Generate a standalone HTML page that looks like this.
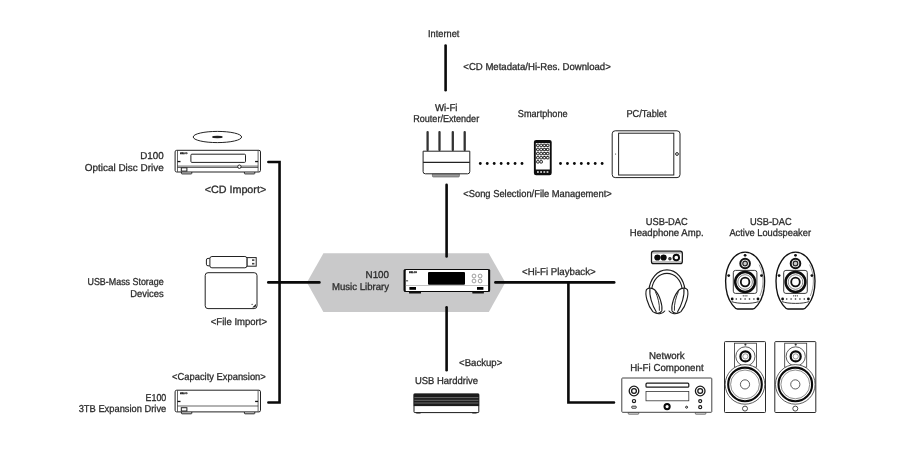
<!DOCTYPE html>
<html lang="en">
<head>
<meta charset="utf-8">
<title>N100 Music Library – connection diagram</title>
<style>
html,body{margin:0;padding:0;background:#fff;}
body{width:900px;height:450px;overflow:hidden;}
svg{display:block;will-change:transform;}
text{font-family:"Liberation Sans",sans-serif;text-rendering:geometricPrecision;stroke:#2b2b2b;stroke-width:.3;}
.ln{fill:none;stroke:#0a0a0a;stroke-width:2.6;stroke-linecap:round;stroke-linejoin:miter;}
.o{fill:#fff;stroke:#222;stroke-width:1;}
.t{fill:none;stroke:#222;stroke-width:.7;}
.k{fill:#111;stroke:none;}
</style>
</head>
<body>
<svg width="900" height="450" viewBox="0 0 900 450">


<polygon points="306.9,282.5 323.4,253.3 488.8,253.3 505.3,282.5 488.8,311.9 323.4,311.9" fill="#c9c9ca"/>
<g class="ln">
<path d="M268.4,162H279.55V402.45H268.4"/>
<path d="M268.3,282.4H319.4"/>
<path d="M445.6,45.5V90.3"/>
<path d="M446.6,184.8V256.4"/>
<path d="M446.6,307.2V370.2"/>
<path d="M495.4,282.4H614.2"/>
<path d="M568.4,282.4V402.5H614"/>
</g>
<g fill="#0a0a0a">
<circle cx="480.30" cy="163.5" r="1.4"/>
<circle cx="487.25" cy="163.5" r="1.4"/>
<circle cx="494.20" cy="163.5" r="1.4"/>
<circle cx="501.15" cy="163.5" r="1.4"/>
<circle cx="508.10" cy="163.5" r="1.4"/>
<circle cx="515.05" cy="163.5" r="1.4"/>
<circle cx="522.00" cy="163.5" r="1.4"/>
<circle cx="560.50" cy="163.5" r="1.4"/>
<circle cx="567.44" cy="163.5" r="1.4"/>
<circle cx="574.38" cy="163.5" r="1.4"/>
<circle cx="581.32" cy="163.5" r="1.4"/>
<circle cx="588.26" cy="163.5" r="1.4"/>
<circle cx="595.20" cy="163.5" r="1.4"/>
<circle cx="602.14" cy="163.5" r="1.4"/>
</g>
<ellipse cx="217.4" cy="137" rx="24.2" ry="5.6" class="o" stroke-width=".9"/>
<ellipse cx="217.4" cy="137" rx="5.4" ry="1.2" fill="#222"/>
<g transform="translate(175.1,150.3)">
<rect x="6.3" y="21" width="10.4" height="2.6" rx=".6" class="o" stroke-width=".8"/>
<rect x="69.3" y="21" width="10.4" height="2.6" rx=".6" class="o" stroke-width=".8"/>
<rect x="0" y="0" width="85.4" height="21.7" rx="1.6" class="o" stroke-width="1.1"/>
<path d="M2.4,.3V21.4M83,.3V21.4" class="t" stroke-width=".9"/>
<path d="M2.4,15.8H83" class="t" stroke-width=".9"/>
<path d="M2.4,17.2H83" class="t" stroke-width=".5"/>
<rect x="15.8" y="3.9" width="54.6" height="8.2" rx="1" class="o" stroke-width="1.1"/>
<circle cx="64.3" cy="16.4" r="1.7" class="o" stroke-width=".9"/>
<rect x="2.4" y="10.6" width="3" height="1.3" class="k"/>
<rect x="80" y="10.6" width="3" height="1.3" class="k"/>
<rect x="6.2" y="17.5" width="5.6" height="3.3" class="o" stroke-width=".8"/>
<text x="4.8" y="4.1" font-size="2.2" font-weight="bold" fill="#555" stroke="none" textLength="7.6" lengthAdjust="spacingAndGlyphs">MELCO</text>
</g>
<g transform="translate(175.1,390.2)">
<rect x="6.3" y="21" width="10.4" height="2.6" rx=".6" class="o" stroke-width=".8"/>
<rect x="69.3" y="21" width="10.4" height="2.6" rx=".6" class="o" stroke-width=".8"/>
<rect x="0" y="0" width="85.4" height="21.7" rx="1.6" class="o" stroke-width="1.1"/>
<path d="M2.4,.3V21.4M83,.3V21.4" class="t" stroke-width=".9"/>
<path d="M2.4,15.8H83" class="t" stroke-width=".9"/>
<rect x="2.4" y="10.6" width="3" height="1.3" class="k"/>
<rect x="80" y="10.6" width="3" height="1.3" class="k"/>
<rect x="6.2" y="17.5" width="5.6" height="3.3" class="o" stroke-width=".8"/>
<text x="4.8" y="4.1" font-size="2.2" font-weight="bold" fill="#555" stroke="none" textLength="7.6" lengthAdjust="spacingAndGlyphs">MELCO</text>
</g>
<g>
<rect x="206.4" y="258.4" width="5" height="7.4" rx="1.6" class="o" stroke-width=".9"/>
<rect x="247" y="257.6" width="9.2" height="8.6" class="o" stroke-width=".9"/>
<rect x="252" y="259.3" width="2.4" height="1.6" fill="#444"/>
<rect x="252" y="262.9" width="2.4" height="1.6" fill="#444"/>
<rect x="209.9" y="256.5" width="37" height="11.3" rx="2" class="o" stroke="#111" stroke-width="1.5"/>
<rect x="205.2" y="272.7" width="51.8" height="35.9" rx="2.8" class="o" stroke-width="1"/>
<path d="M252.2,307.6L256,303.9V305.6a2,2 0 0 1-2,2Z" fill="#222"/>
<circle cx="252.1" cy="304.3" r=".6" fill="#222"/>
</g>
<g>
<rect x="426.45" y="130.9" width="2.3" height="20.3" rx="1.1" fill="#333"/>
<rect x="438.35" y="130.9" width="2.3" height="20.3" rx="1.1" fill="#333"/>
<rect x="451.65" y="130.9" width="2.3" height="20.3" rx="1.1" fill="#333"/>
<rect x="463.55" y="130.9" width="2.3" height="20.3" rx="1.1" fill="#333"/>
<rect x="432.4" y="173" width="27" height="4" rx="1" fill="#9a9a9a" stroke="#555" stroke-width=".6"/>
<path d="M423.1,151.2H469.8V171.6a2.2,2.2 0 0 1-2.2,2.2H425.3a2.2,2.2 0 0 1-2.2-2.2Z" class="o" stroke="#1c1c1c" stroke-width="1.15"/>
<path d="M423.1,162.3H469.8" stroke="#222" stroke-width="1.2" fill="none"/>
</g>
<g>
<rect x="533.9" y="139.9" width="17.8" height="35.4" rx="2.2" fill="#0d0d0d"/>
<rect x="535.8" y="143.1" width="14" height="26.4" fill="#fff"/>
<rect x="536.60" y="144.20" width="2.6" height="2.4" rx=".7" fill="#fff" stroke="#111" stroke-width="1"/>
<rect x="539.85" y="144.20" width="2.6" height="2.4" rx=".7" fill="#fff" stroke="#111" stroke-width="1"/>
<rect x="543.10" y="144.20" width="2.6" height="2.4" rx=".7" fill="#fff" stroke="#111" stroke-width="1"/>
<rect x="546.35" y="144.20" width="2.6" height="2.4" rx=".7" fill="#fff" stroke="#111" stroke-width="1"/>
<rect x="536.60" y="148.30" width="2.6" height="2.4" rx=".7" fill="#fff" stroke="#111" stroke-width="1"/>
<rect x="539.85" y="148.30" width="2.6" height="2.4" rx=".7" fill="#fff" stroke="#111" stroke-width="1"/>
<rect x="543.10" y="148.30" width="2.6" height="2.4" rx=".7" fill="#fff" stroke="#111" stroke-width="1"/>
<rect x="546.35" y="148.30" width="2.6" height="2.4" rx=".7" fill="#fff" stroke="#111" stroke-width="1"/>
<rect x="536.60" y="152.40" width="2.6" height="2.4" rx=".7" fill="#fff" stroke="#111" stroke-width="1"/>
<rect x="539.85" y="152.40" width="2.6" height="2.4" rx=".7" fill="#fff" stroke="#111" stroke-width="1"/>
<rect x="543.10" y="152.40" width="2.6" height="2.4" rx=".7" fill="#fff" stroke="#111" stroke-width="1"/>
<rect x="546.35" y="152.40" width="2.6" height="2.4" rx=".7" fill="#fff" stroke="#111" stroke-width="1"/>
<rect x="536.60" y="156.50" width="2.6" height="2.4" rx=".7" fill="#fff" stroke="#111" stroke-width="1"/>
<rect x="539.85" y="156.50" width="2.6" height="2.4" rx=".7" fill="#fff" stroke="#111" stroke-width="1"/>
<rect x="543.10" y="156.50" width="2.6" height="2.4" rx=".7" fill="#fff" stroke="#111" stroke-width="1"/>
<rect x="546.35" y="156.50" width="2.6" height="2.4" rx=".7" fill="#fff" stroke="#111" stroke-width="1"/>
<rect x="536.60" y="160.60" width="2.6" height="2.4" rx=".7" fill="#fff" stroke="#111" stroke-width="1"/>
<rect x="539.85" y="160.60" width="2.6" height="2.4" rx=".7" fill="#fff" stroke="#111" stroke-width="1"/>
<rect x="537.00" y="171.3" width="1.8" height="1.4" fill="#fff"/>
<rect x="540.20" y="171.3" width="1.8" height="1.4" fill="#fff"/>
<rect x="543.40" y="171.3" width="1.8" height="1.4" fill="#fff"/>
<rect x="546.60" y="171.3" width="1.8" height="1.4" fill="#fff"/>
</g>
<g>
<rect x="612.2" y="130.8" width="67.8" height="46.8" rx="3" class="o" stroke-width="1"/>
<rect x="618.6" y="133.2" width="55.2" height="41.8" class="o" stroke-width="1"/>
<circle cx="677" cy="154" r="1.4" class="o" stroke-width=".9"/>
<circle cx="615.6" cy="154" r=".55" fill="#222"/>
</g>
<g transform="translate(403.7,269)">
<rect x="5.3" y="22" width="12" height="2.6" rx=".5" fill="#111"/>
<rect x="68.6" y="22" width="11.6" height="2.6" rx=".5" fill="#111"/>
<rect x=".6" y=".5" width="85.2" height="22" rx="1.6" fill="#fff" stroke="#0a0a0a" stroke-width="1.2"/>
<rect x="0" y=".4" width="2" height="22.2" rx=".8" fill="#0a0a0a"/>
<rect x="84.4" y=".4" width="2" height="22.2" rx=".8" fill="#0a0a0a"/>
<path d="M2,16.5H84.4" stroke="#999" stroke-width=".6" fill="none"/>
<rect x="24.3" y="3.1" width="37" height="12.6" rx="1" fill="#000"/>
<circle cx="70.3" cy="7" r="1.9" fill="#fff" stroke="#777" stroke-width=".7"/>
<circle cx="70.3" cy="12" r="1.9" fill="#fff" stroke="#777" stroke-width=".7"/>
<circle cx="76.4" cy="7" r="1.9" fill="#fff" stroke="#777" stroke-width=".7"/>
<circle cx="76.4" cy="12" r="1.9" fill="#fff" stroke="#777" stroke-width=".7"/>
<rect x="5.7" y="18" width="6.6" height="2.8" fill="#000"/>
<rect x="73.3" y="18" width="6.4" height="2.8" fill="#000"/>
<rect x="2" y="11.2" width="2.4" height="1.2" fill="#555"/>
<text x="5.4" y="4.4" font-size="2.4" font-weight="bold" fill="#222" stroke="none" textLength="7.8" lengthAdjust="spacingAndGlyphs">MELCO</text>
</g>
<g>
<rect x="416.2" y="412" width="4.4" height="1.6" rx=".5" fill="#222"/>
<rect x="472.2" y="412" width="4.4" height="1.6" rx=".5" fill="#222"/>
<rect x="414" y="394" width="64.8" height="18.6" rx=".8" fill="#fff" stroke="#1a1a1a" stroke-width="1"/>
<rect x="413.7" y="393.7" width="65.4" height="12.4" fill="#1c1c1c"/>
<path d="M414.4,397.6H478.4M414.4,400.3H478.4M414.4,403H478.4" stroke="#8a8a8a" stroke-width=".7" fill="none"/>
</g>
<g>
<rect x="651.5" y="251.2" width="30.8" height="12.4" rx="2.2" fill="#fff" stroke="#151515" stroke-width="1.3"/>
<path d="M652.6,252.9H681.2" stroke="#333" stroke-width=".6" fill="none"/>
<path d="M652.6,262H681.2" stroke="#333" stroke-width=".6" fill="none"/>
<circle cx="657.4" cy="257.5" r="3.1" fill="#0a0a0a"/>
<circle cx="663.6" cy="257.5" r="3.1" fill="#0a0a0a"/>
<circle cx="669.9" cy="258.8" r="1.7" fill="#222"/><circle cx="669.9" cy="258.8" r=".6" fill="#777"/>
<circle cx="676.3" cy="257.5" r="2.8" fill="#fff" stroke="#0a0a0a" stroke-width="1.9"/>
</g>
<g fill="none" stroke="#1c1c1c" stroke-width="1.1" stroke-linecap="round" stroke-linejoin="round">
<path d="M 648.78,290.21 C 650.17,278.88 656.88,269.86 666.94,269.86 C 677.00,269.86 683.71,278.88 685.10,290.21" stroke-width="1.2"/>
<path d="M 651.79,288.59 C 653.18,279.80 658.96,273.33 666.94,273.33 C 674.92,273.33 680.71,279.80 682.09,288.59"/>
<path d="M 646.47,289.52 C 644.62,294.15 647.63,305.48 652.83,311.61 C 655.72,314.16 660.35,313.58 661.85,310.69 C 662.66,305.48 659.77,294.84 654.57,289.75 C 652.25,287.79 648.20,287.55 646.47,289.52 Z" fill="#fff"/>
<path d="M 649.94,288.83 C 649.01,295.30 652.25,305.48 656.19,311.73"/>
<path d="M 655.49,291.83 C 657.80,296.92 659.89,304.32 659.42,310.34" stroke-width=".9"/>
<path d="M 655.72,312.88 C 658.61,314.50 662.89,313.58 664.74,311.03"/>
<path d="M 687.33,289.52 C 689.18,294.15 686.17,305.48 680.97,311.61 C 678.08,314.16 673.45,313.58 671.95,310.69 C 671.14,305.48 674.03,294.84 679.23,289.75 C 681.55,287.79 685.60,287.55 687.33,289.52 Z" fill="#fff"/>
<path d="M 683.86,288.83 C 684.79,295.30 681.55,305.48 677.61,311.73"/>
<path d="M 678.31,291.83 C 676.00,296.92 673.91,304.32 674.38,310.34" stroke-width=".9"/>
<path d="M 678.08,312.88 C 675.19,314.50 670.91,313.58 669.06,311.03"/>
</g>
<g transform="translate(745.1,0)">
<path d="M-19.5,281A19.5,28.9 0 0 1 19.5,281C19.5,291.5 16.8,299.6 12.7,304.8C11.3,306.6 10,309 7.6,309H-7.6C-10,309 -11.3,306.6 -12.7,304.8C-16.8,299.6 -19.500,291.5 -19.5,281Z" fill="#fff" stroke="#111" stroke-width="1.35"/>
<path d="M-13.4,301.6C-8,304 8,304 13.4,301.6" fill="none" stroke="#222" stroke-width=".9"/>
<path d="M14.8,296C16.8,291 17.9,286 17.9,281C17.9,275 16.4,269 14,264.6" fill="none" stroke="#333" stroke-width=".5"/>
<circle cx="0" cy="263.5" r="4.8" fill="#fff" stroke="#111" stroke-width="2"/>
<circle cx="0" cy="263.5" r="2.3" fill="#ccc" stroke="#222" stroke-width="1.2"/>
<rect x="-11.8" y="270.4" width="23.6" height="23" rx="2.2" fill="#fff" stroke="#222" stroke-width=".9"/>
<circle cx="0" cy="282" r="9.9" fill="#fff" stroke="#0d0d0d" stroke-width="2.5"/>
<circle cx="0" cy="282" r="7.3" fill="none" stroke="#333" stroke-width=".6"/>
<circle cx="0" cy="282" r="4.3" fill="#fff" stroke="#111" stroke-width="1.8"/>
<circle cx="0" cy="255.3" r="1.4" fill="#111"/>
<circle cx="-16.4" cy="275.6" r="1.4" fill="#111"/>
<circle cx="16.4" cy="275.6" r="1.4" fill="#111"/>
<circle cx="-12.9" cy="299" r="1.4" fill="#111"/>
<circle cx="12.9" cy="299" r="1.4" fill="#111"/>
<circle cx="-8.8" cy="299" r=".8" fill="#222"/>
<circle cx="-4.4" cy="299" r=".8" fill="#222"/>
<circle cx="0.0" cy="299" r=".8" fill="#222"/>
<circle cx="4.4" cy="299" r=".8" fill="#222"/>
<circle cx="8.8" cy="299" r=".8" fill="#222"/>
<circle cx="-1.8" cy="295.8" r=".65" fill="#222"/>
<circle cx="0.0" cy="295.8" r=".65" fill="#222"/>
<circle cx="1.8" cy="295.8" r=".65" fill="#222"/>
</g>
<g transform="translate(795.5,0)">
<path d="M-19.5,281A19.5,28.9 0 0 1 19.5,281C19.5,291.5 16.8,299.6 12.7,304.8C11.3,306.6 10,309 7.6,309H-7.6C-10,309 -11.3,306.6 -12.7,304.8C-16.8,299.6 -19.500,291.5 -19.5,281Z" fill="#fff" stroke="#111" stroke-width="1.35"/>
<path d="M-13.4,301.6C-8,304 8,304 13.4,301.6" fill="none" stroke="#222" stroke-width=".9"/>
<path d="M14.8,296C16.8,291 17.9,286 17.9,281C17.9,275 16.4,269 14,264.6" fill="none" stroke="#333" stroke-width=".5"/>
<circle cx="0" cy="263.5" r="4.8" fill="#fff" stroke="#111" stroke-width="2"/>
<circle cx="0" cy="263.5" r="2.3" fill="#ccc" stroke="#222" stroke-width="1.2"/>
<rect x="-11.8" y="270.4" width="23.6" height="23" rx="2.2" fill="#fff" stroke="#222" stroke-width=".9"/>
<circle cx="0" cy="282" r="9.9" fill="#fff" stroke="#0d0d0d" stroke-width="2.5"/>
<circle cx="0" cy="282" r="7.3" fill="none" stroke="#333" stroke-width=".6"/>
<circle cx="0" cy="282" r="4.3" fill="#fff" stroke="#111" stroke-width="1.8"/>
<circle cx="0" cy="255.3" r="1.4" fill="#111"/>
<circle cx="-16.4" cy="275.6" r="1.4" fill="#111"/>
<circle cx="16.4" cy="275.6" r="1.4" fill="#111"/>
<circle cx="-12.9" cy="299" r="1.4" fill="#111"/>
<circle cx="12.9" cy="299" r="1.4" fill="#111"/>
<circle cx="-8.8" cy="299" r=".8" fill="#222"/>
<circle cx="-4.4" cy="299" r=".8" fill="#222"/>
<circle cx="0.0" cy="299" r=".8" fill="#222"/>
<circle cx="4.4" cy="299" r=".8" fill="#222"/>
<circle cx="8.8" cy="299" r=".8" fill="#222"/>
<circle cx="-1.8" cy="295.8" r=".65" fill="#222"/>
<circle cx="0.0" cy="295.8" r=".65" fill="#222"/>
<circle cx="1.8" cy="295.8" r=".65" fill="#222"/>
</g>
<g>
<rect x="628.3" y="412" width="10.4" height="2.2" rx=".5" fill="#ddd" stroke="#444" stroke-width=".7"/>
<rect x="695.4" y="412" width="10.4" height="2.2" rx=".5" fill="#ddd" stroke="#444" stroke-width=".7"/>
<rect x="621.8" y="378" width="90" height="34.3" rx=".8" fill="#fff" stroke="#444" stroke-width="1"/>
<rect x="646" y="383.2" width="42.8" height="4" rx="1" fill="#fff" stroke="#1a1a1a" stroke-width="1.2"/>
<rect x="646" y="391.5" width="42.8" height="9.3" fill="#fff" stroke="#333" stroke-width=".8"/>
<circle cx="634" cy="391" r="4.8" fill="#fff" stroke="#1a1a1a" stroke-width="1.3"/>
<circle cx="634" cy="391" r="2.4" fill="#fff" stroke="#1a1a1a" stroke-width="1.3"/>
<circle cx="700.2" cy="391" r="4.8" fill="#fff" stroke="#1a1a1a" stroke-width="1.3"/>
<circle cx="700.2" cy="391" r="2.4" fill="#fff" stroke="#1a1a1a" stroke-width="1.3"/>
<circle cx="634" cy="401.1" r="1.6" fill="#fff" stroke="#1a1a1a" stroke-width="1.2"/>
<rect x="631.8" y="406.2" width="4.4" height="2" rx=".4" fill="#fff" stroke="#1a1a1a" stroke-width=".9"/>
<circle cx="700.2" cy="401.1" r="1.5" fill="#fff" stroke="#1a1a1a" stroke-width="1.2"/>
<circle cx="700.2" cy="407.2" r="1.5" fill="#fff" stroke="#1a1a1a" stroke-width="1.2"/>
<circle cx="667.1" cy="406.6" r="2.6" fill="#fff" stroke="#0a0a0a" stroke-width="2"/>
<circle cx="686.6" cy="407.2" r="1" fill="#fff" stroke="#1a1a1a" stroke-width="1"/>
</g>
<g transform="translate(745,0)">
<rect x="-20.5" y="341.6" width="41" height="70.9" rx=".8" fill="#fff" stroke="#2a2a2a" stroke-width="1"/>
<rect x="-10.6" y="343.2" width="22" height="24" fill="#fff" stroke="#333" stroke-width=".8"/>
<circle cx=".4" cy="344.6" r="1.1" fill="#333"/>
<circle cx=".4" cy="356.4" r="9.6" fill="#fff" stroke="#333" stroke-width=".8"/>
<circle cx=".4" cy="356.4" r="5" fill="#fff" stroke="#0a0a0a" stroke-width="2.2"/>
<circle cx=".4" cy="356.4" r="2.6" fill="#fff" stroke="#555" stroke-width=".6"/>
<circle cx="0" cy="384.4" r="19.8" fill="#fff" stroke="#333" stroke-width=".8"/>
<circle cx="0" cy="384.4" r="16.8" fill="#fff" stroke="#0a0a0a" stroke-width="2.1"/>
<circle cx="0" cy="384.4" r="14.4" fill="none" stroke="#444" stroke-width=".6"/>
<circle cx="0" cy="384.4" r="4.6" fill="#fff" stroke="#333" stroke-width=".8"/>
<circle cx="0" cy="408.6" r="2.5" fill="#fff" stroke="#333" stroke-width=".9"/>
</g>
<g transform="translate(795.3,0)">
<rect x="-20.5" y="341.6" width="41" height="70.9" rx=".8" fill="#fff" stroke="#2a2a2a" stroke-width="1"/>
<rect x="-10.6" y="343.2" width="22" height="24" fill="#fff" stroke="#333" stroke-width=".8"/>
<circle cx=".4" cy="344.6" r="1.1" fill="#333"/>
<circle cx=".4" cy="356.4" r="9.6" fill="#fff" stroke="#333" stroke-width=".8"/>
<circle cx=".4" cy="356.4" r="5" fill="#fff" stroke="#0a0a0a" stroke-width="2.2"/>
<circle cx=".4" cy="356.4" r="2.6" fill="#fff" stroke="#555" stroke-width=".6"/>
<circle cx="0" cy="384.4" r="19.8" fill="#fff" stroke="#333" stroke-width=".8"/>
<circle cx="0" cy="384.4" r="16.8" fill="#fff" stroke="#0a0a0a" stroke-width="2.1"/>
<circle cx="0" cy="384.4" r="14.4" fill="none" stroke="#444" stroke-width=".6"/>
<circle cx="0" cy="384.4" r="4.6" fill="#fff" stroke="#333" stroke-width=".8"/>
<circle cx="0" cy="408.6" r="2.5" fill="#fff" stroke="#333" stroke-width=".9"/>
</g>
<g>
<text x="163.7" y="158.7" text-anchor="end" font-size="10" textLength="23.4" lengthAdjust="spacingAndGlyphs" fill="#2b2b2b">D100</text>
<text x="163.7" y="170.8" text-anchor="end" font-size="10" textLength="79" lengthAdjust="spacingAndGlyphs" fill="#2b2b2b">Optical Disc Drive</text>
<text x="163.7" y="285" text-anchor="end" font-size="10" textLength="76.2" lengthAdjust="spacingAndGlyphs" fill="#2b2b2b">USB-Mass Storage</text>
<text x="163.7" y="296.7" text-anchor="end" font-size="10" textLength="33.4" lengthAdjust="spacingAndGlyphs" fill="#2b2b2b">Devices</text>
<text x="166.3" y="400.5" text-anchor="end" font-size="10" textLength="20.8" lengthAdjust="spacingAndGlyphs" fill="#2b2b2b">E100</text>
<text x="166.3" y="412" text-anchor="end" font-size="10" textLength="87.6" lengthAdjust="spacingAndGlyphs" fill="#2b2b2b">3TB Expansion Drive</text>
<text x="389" y="277.9" text-anchor="end" font-size="10" textLength="23.4" lengthAdjust="spacingAndGlyphs" fill="#2b2b2b">N100</text>
<text x="389" y="289.8" text-anchor="end" font-size="10" textLength="57" lengthAdjust="spacingAndGlyphs" fill="#2b2b2b">Music Library</text>
<text x="204.7" y="193" text-anchor="start" font-size="10.6" textLength="61.5" lengthAdjust="spacingAndGlyphs" fill="#2b2b2b" stroke="none">&lt;CD Import&gt;</text>
<text x="210.8" y="325" text-anchor="start" font-size="10" textLength="56.2" lengthAdjust="spacingAndGlyphs" fill="#2b2b2b">&lt;File Import&gt;</text>
<text x="172" y="380.3" text-anchor="start" font-size="10" textLength="93.8" lengthAdjust="spacingAndGlyphs" fill="#2b2b2b">&lt;Capacity Expansion&gt;</text>
<text x="463.3" y="70.1" text-anchor="start" font-size="10" textLength="147.5" lengthAdjust="spacingAndGlyphs" fill="#2b2b2b">&lt;CD Metadata/Hi-Res. Download&gt;</text>
<text x="463.3" y="196.6" text-anchor="start" font-size="10" textLength="148.5" lengthAdjust="spacingAndGlyphs" fill="#2b2b2b">&lt;Song Selection/File Management&gt;</text>
<text x="522.1" y="274.9" text-anchor="start" font-size="10" textLength="73.5" lengthAdjust="spacingAndGlyphs" fill="#2b2b2b">&lt;Hi-Fi Playback&gt;</text>
<text x="459.1" y="366.3" text-anchor="start" font-size="10" textLength="43.2" lengthAdjust="spacingAndGlyphs" fill="#2b2b2b">&lt;Backup&gt;</text>
<text x="443.7" y="37.4" text-anchor="middle" font-size="10" textLength="31.3" lengthAdjust="spacingAndGlyphs" fill="#2b2b2b">Internet</text>
<text x="446.2" y="110.7" text-anchor="middle" font-size="10" textLength="22.5" lengthAdjust="spacingAndGlyphs" fill="#2b2b2b">Wi-Fi</text>
<text x="446.2" y="122.4" text-anchor="middle" font-size="10" textLength="65.9" lengthAdjust="spacingAndGlyphs" fill="#2b2b2b">Router/Extender</text>
<text x="542.7" y="116.7" text-anchor="middle" font-size="10" textLength="49.7" lengthAdjust="spacingAndGlyphs" fill="#2b2b2b">Smartphone</text>
<text x="646.5" y="116.8" text-anchor="middle" font-size="10" textLength="40.2" lengthAdjust="spacingAndGlyphs" fill="#2b2b2b">PC/Tablet</text>
<text x="666.8" y="224.7" text-anchor="middle" font-size="10" textLength="42" lengthAdjust="spacingAndGlyphs" fill="#2b2b2b">USB-DAC</text>
<text x="666.7" y="236.4" text-anchor="middle" font-size="10" textLength="73.8" lengthAdjust="spacingAndGlyphs" fill="#2b2b2b">Headphone Amp.</text>
<text x="770.8" y="224.7" text-anchor="middle" font-size="10" textLength="41.8" lengthAdjust="spacingAndGlyphs" fill="#2b2b2b">USB-DAC</text>
<text x="770.2" y="236.3" text-anchor="middle" font-size="10" textLength="81.6" lengthAdjust="spacingAndGlyphs" fill="#2b2b2b">Active Loudspeaker</text>
<text x="666.9" y="358.9" text-anchor="middle" font-size="10" textLength="35.6" lengthAdjust="spacingAndGlyphs" fill="#2b2b2b">Network</text>
<text x="666.9" y="370.6" text-anchor="middle" font-size="10" textLength="73.4" lengthAdjust="spacingAndGlyphs" fill="#2b2b2b">Hi-Fi Component</text>
<text x="446.5" y="383.6" text-anchor="middle" font-size="10" textLength="63" lengthAdjust="spacingAndGlyphs" fill="#2b2b2b">USB Harddrive</text>
</g>
</svg>
</body>
</html>
